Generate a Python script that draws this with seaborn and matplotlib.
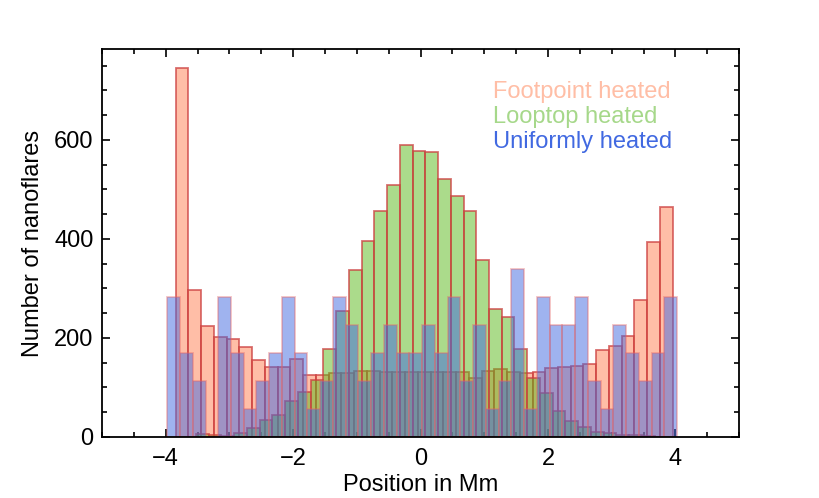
import numpy as np
import pandas as pd
import matplotlib
matplotlib.use("Agg")
import matplotlib.pyplot as plt
from matplotlib.ticker import MultipleLocator
import seaborn as sns

# -------------------------------------------------
# Data (histogram counts)
# -------------------------------------------------
bin_width = 0.2

footpoint_start = -3.843
footpoint_counts = [
    746, 296, 224, 201, 197, 181, 155, 140, 140, 158,
    124, 124, 128, 128, 133, 133, 130, 130, 130, 130,
    130, 130, 130, 118, 133, 136, 130, 128, 131, 138,
    140, 142, 148, 175, 184, 204, 276, 393, 464,
]

looptop_start = -3.526
looptop_counts = [
    5, 3, 2, 8, 17, 33, 44, 73, 91, 115,
    178, 255, 337, 396, 456, 509, 590, 578, 576, 521,
    487, 457, 357, 258, 242, 177, 118, 88, 52, 32,
    19, 10, 7, 4, 3, 2,
]

uniform_start = -3.975
uniform_counts = [
    283, 170, 113, 0, 283, 170, 57, 113, 170, 283,
    170, 57, 113, 283, 226, 113, 170, 226, 170, 170,
    226, 170, 283, 113, 226, 57, 113, 340, 57, 283,
    226, 226, 283, 113, 57, 226, 170, 113, 170, 283,
]

labels = ["Footpoint heated", "Looptop heated", "Uniformly heated"]
x_ticks = [-4, -2, 0, 2, 4]
y_ticks = [0, 200, 400, 600]


def hist_frame(start, counts):
    edges = start + bin_width * np.arange(len(counts) + 1)
    centers = 0.5 * (edges[:-1] + edges[1:])
    return pd.DataFrame({"pos": centers, "count": counts}), edges.tolist()


# -------------------------------------------------
# Plot
# -------------------------------------------------
sns.set_style("ticks")
plt.rcParams["font.family"] = ["Liberation Sans", "DejaVu Sans"]
plt.rcParams["text.color"] = "black"
plt.rcParams["axes.labelcolor"] = "black"
plt.rcParams["xtick.color"] = "black"
plt.rcParams["ytick.color"] = "black"

fig = plt.figure(figsize=(8.19, 4.98), dpi=100)
ax = fig.add_axes([0.1245, 0.123, 0.778, 0.778])

series = [
    (footpoint_start, footpoint_counts, "#FF7F50", (0.80, 0.25, 0.25, 0.75)),
    (looptop_start, looptop_counts, "#59B919", (0.80, 0.25, 0.25, 0.75)),
    (uniform_start, uniform_counts, "#4169E1", (0.90, 0.40, 0.40, 0.40)),
]

for start, counts, color, edge in series:
    df, edges = hist_frame(start, counts)
    sns.histplot(
        data=df,
        x="pos",
        weights="count",
        bins=edges,
        element="bars",
        fill=True,
        color=color,
        alpha=0.5,
        edgecolor=edge,
        linewidth=1.3,
        ax=ax,
    )

ax.set_xlim(-5, 5)
ax.set_ylim(0, 783)
ax.set_xticks(x_ticks)
ax.set_yticks(y_ticks)
ax.set_xticklabels(["\u2212" + str(-t) if t < 0 else str(t) for t in x_ticks])
ax.xaxis.set_minor_locator(MultipleLocator(0.5))
ax.yaxis.set_minor_locator(MultipleLocator(50))

ax.tick_params(which="both", direction="in", top=True, right=True,
               labelsize=17, width=1.2, color="black", labelcolor="black")
ax.tick_params(which="major", length=6)
ax.tick_params(which="minor", length=3.5)
ax.tick_params(axis="x", pad=8)
ax.tick_params(axis="y", pad=6)

for spine in ax.spines.values():
    spine.set_linewidth(1.3)
    spine.set_color("black")

ax.set_xlabel("Position in Mm", fontsize=17, labelpad=3, color="black")
ax.set_ylabel("Number of nanoflares", fontsize=17, labelpad=7, color="black")

text_colors = ["#FFBEA6", "#A6D88A", "#4169E1"]
for i, (lab, col) in enumerate(zip(labels, text_colors)):
    ax.text(0.614, 0.874 - i * 0.0645, lab, color=col, fontsize=17,
            transform=ax.transAxes, ha="left", va="baseline")

fig.savefig("out.png", dpi=100)
